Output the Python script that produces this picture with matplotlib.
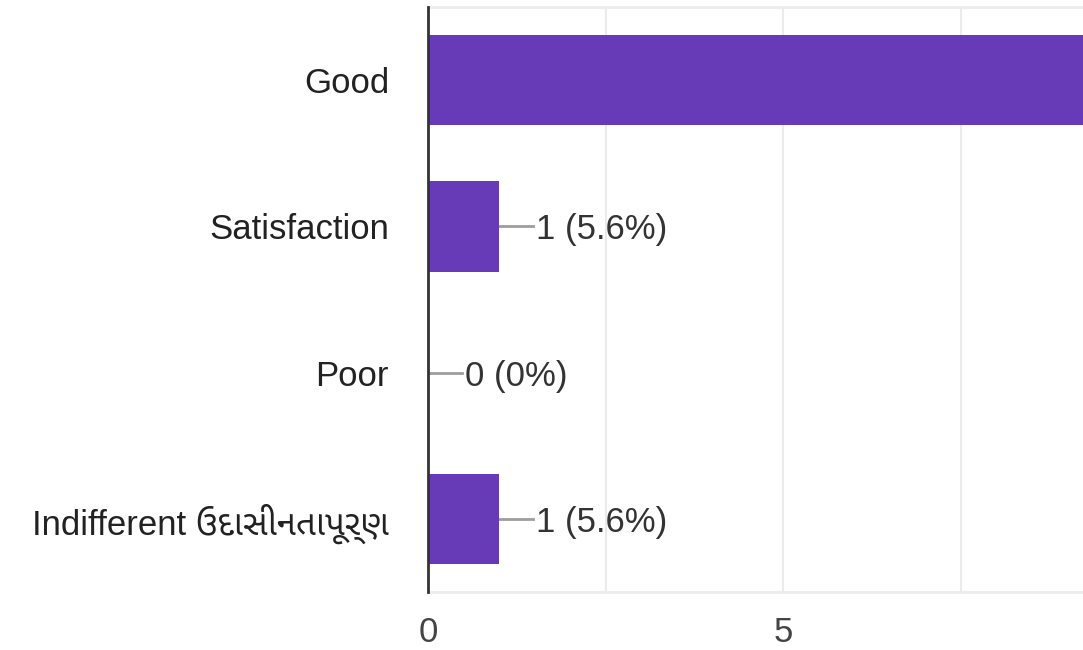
import matplotlib
matplotlib.use('Agg')
import matplotlib.pyplot as plt
from matplotlib import font_manager
from matplotlib.ft2font import FT2Font

# 数据
categories = ['Good', 'Satisfaction', 'Poor', 'Indifferent ઉદાસીનતાપૂર્ણ']
counts = [16, 1, 0, 1]
total = sum(counts)

# 找含古吉拉特文字形的字体
guj = []
for path in font_manager.findSystemFonts():
    try:
        if 0x0A89 in FT2Font(path).get_charmap():
            name = font_manager.FontProperties(fname=path).get_name()
            if name not in guj:
                guj.append(name)
    except Exception:
        pass
guj.sort(key=lambda n: 0 if 'Noto Sans Gujarati' in n else 1)
plt.rcParams['font.family'] = ['Liberation Sans'] + guj[:1] + ['DejaVu Sans']

bar_color = '#673ab7'
fs = 25
fig = plt.figure(figsize=(10.83, 6.5), dpi=100)
ax = fig.add_axes([428 / 1083, 58 / 650, 655 / 1083, 585 / 650])

y = list(range(len(categories)))
ax.barh(y, counts, height=0.62, color=bar_color, zorder=3)

xmax = 655 / 71
# 数值标签+引线（画面外的不画）
for yi, v in zip(y, counts):
    if v + 0.5 > xmax:
        continue
    ax.plot([v, v + 0.48], [yi, yi], color='#9e9e9e', lw=2, zorder=2)
    ax.text(v + 0.52, yi, '%d (%s%%)' % (v, ('%.1f' % (100 * v / total)).rstrip('0').rstrip('.')),
            va='center_baseline', ha='left', fontsize=fs, color='#333333')

ax.set_xticks([0, 5])
ax.set_xticks([2.5, 7.5, 10], minor=True)
ax.set_xlim(0, xmax)
ax.set_ylim(len(categories) - 0.5, -0.5)
ax.set_yticks(y)
ax.set_yticklabels(categories, fontsize=fs, color='#222222')
ax.tick_params(axis='x', labelsize=fs, labelcolor='#444444', length=0, pad=17, which='both')
ax.tick_params(axis='y', length=0, pad=28)
ax.grid(axis='x', which='both', color='#ebebeb', lw=1.5, zorder=0)

for s in ['top', 'bottom']:
    ax.spines[s].set_color('#ebebeb')
    ax.spines[s].set_linewidth(2)
ax.spines['right'].set_visible(False)
ax.spines['left'].set_color('#333333')
ax.spines['left'].set_linewidth(2)
ax.spines['left'].set_zorder(4)

fig.savefig('out.png', dpi=100)
